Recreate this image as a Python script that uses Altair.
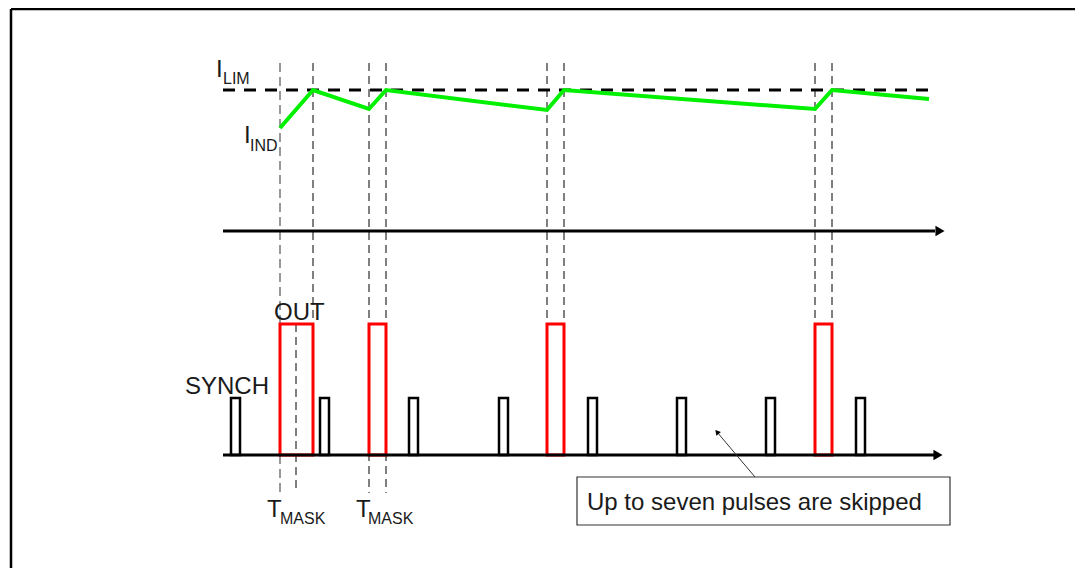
import altair as alt
import pandas as pd

# ---- time axis (t = 0 at the origin of both time axes), levels (v = 0 on the lower axis) ----
T_DOMAIN = [-215, 852]
V_DOMAIN = [-113, 447]

axis_start = 0
axis_end = 712          # end of the axis shafts
axis_tip = [717, 715]   # arrowhead centres (upper, lower)
upper_axis_level = 224
lower_axis_level = 0

# current limit
ilim_level = 365
ilim_end = 714

# inductor current (green)
ind_t = [57, 90, 146, 163, 324, 341, 592, 609, 706]
ind_v = [327, 365, 346, 365, 345, 365, 346, 365, 356]

# OUT pulses (red)
out_start = [57, 146, 324, 592]
out_end = [90, 163, 341, 609]
out_high = 131

# SYNCH pulses (black)
sync_start = [8, 97, 186, 276, 365, 454, 543, 633]
sync_width = 9
sync_high = 57

# vertical dashed guides
guide_t = [90, 73, 146, 163, 324, 341, 592, 609]
guide_top = [392, 131, 392, 392, 392, 392, 392, 392]
guide_bot = [131, -38, -38, -38, 131, 131, 131, 131]
guide0_t, guide0_top, guide0_bot = 57, 392, -38

# labels
big_text = ["I", "I", "OUT", "SYNCH", "T", "T"]
big_t = [-7, 21, 51, -38, 44, 133]
big_v = [378, 312, 135, 61, -62, -62]
sub_text = ["LIM", "IND", "MASK", "MASK"]
sub_t = [0, 27, 57, 145]
sub_v = [371, 304, -69, -69]

note_text = "Up to seven pulses are skipped"
note_box = dict(t=354, t2=727, v=-22, v2=-70)
note_pos = (364, -55)
note_arrow = dict(t=532, v=-22, t2=494, v2=23)

frame_t = -212
frame_v = 446

FONT = "Liberation Sans"
TXT = "#1a1a1a"

xs = alt.Scale(domain=T_DOMAIN, nice=False, zero=False)
ys = alt.Scale(domain=V_DOMAIN, nice=False, zero=False)


def X(f="t"):
    return alt.X(f"{f}:Q", scale=xs, axis=None)


def Y(f="v"):
    return alt.Y(f"{f}:Q", scale=ys, axis=None)


layers = []

# frame
frame_h = pd.DataFrame({"t": [frame_t], "t2": [T_DOMAIN[1] + 20], "v": [frame_v]})
frame_v_df = pd.DataFrame({"t": [frame_t], "v": [frame_v], "v2": [V_DOMAIN[0] - 20]})
layers.append(alt.Chart(frame_h).mark_rule(color="black", strokeWidth=2.5).encode(
    x=X(), x2="t2:Q", y=Y()))
layers.append(alt.Chart(frame_v_df).mark_rule(color="black", strokeWidth=2.5).encode(
    x=X(), y=Y(), y2="v2:Q"))

# dashed guides
g = pd.DataFrame({"t": guide_t, "v": guide_top, "v2": guide_bot})
layers.append(alt.Chart(g).mark_rule(color="black", strokeWidth=1, strokeDash=[8, 5]).encode(
    x=X(), y=Y(), y2="v2:Q"))
g0 = pd.DataFrame({"t": [guide0_t], "v": [guide0_top], "v2": [guide0_bot]})
layers.append(alt.Chart(g0).mark_rule(color="#777777", strokeWidth=1.5, strokeDash=[9, 5]).encode(
    x=X(), y=Y(), y2="v2:Q"))

# I_LIM dashed
il = pd.DataFrame({"t": [axis_start], "t2": [ilim_end], "v": [ilim_level]})
layers.append(alt.Chart(il).mark_rule(color="black", strokeWidth=3.2, strokeDash=[12, 9]).encode(
    x=X(), x2="t2:Q", y=Y()))

# inductor current
ind = pd.DataFrame({"t": ind_t, "v": ind_v, "i": list(range(len(ind_t)))})
layers.append(alt.Chart(ind).mark_line(color="#00f000", strokeWidth=4, strokeJoin="miter").encode(
    x=X(), y=Y(), order="i:Q"))

# OUT pulses
op = pd.DataFrame({"t": out_start, "t2": out_end, "v": [lower_axis_level] * 4, "v2": [out_high] * 4})
layers.append(alt.Chart(op).mark_rect(fillOpacity=0, stroke="#ff0000", strokeWidth=3).encode(
    x=X(), x2="t2:Q", y=Y(), y2="v2:Q"))

# SYNCH pulses
sp = pd.DataFrame({"t": sync_start, "t2": [s + sync_width for s in sync_start],
                   "v": [lower_axis_level] * len(sync_start), "v2": [sync_high] * len(sync_start)})
layers.append(alt.Chart(sp).mark_rect(fillOpacity=0, stroke="black", strokeWidth=2.5).encode(
    x=X(), x2="t2:Q", y=Y(), y2="v2:Q"))

# time axes
ax = pd.DataFrame({"t": [axis_start, axis_start], "t2": [axis_end, axis_end],
                   "v": [upper_axis_level, lower_axis_level]})
layers.append(alt.Chart(ax).mark_rule(color="black", strokeWidth=3).encode(
    x=X(), x2="t2:Q", y=Y()))
ah = pd.DataFrame({"t": axis_tip, "v": [upper_axis_level, lower_axis_level]})
layers.append(alt.Chart(ah).mark_point(shape="triangle-right", filled=True, color="black",
                                        size=110, opacity=1).encode(x=X(), y=Y()))

# annotation box
nb = pd.DataFrame([note_box])
layers.append(alt.Chart(nb).mark_rect(fill="white", stroke="#333333", strokeWidth=1.2).encode(
    x=X(), x2="t2:Q", y=Y(), y2="v2:Q"))
na = pd.DataFrame([note_arrow])
layers.append(alt.Chart(na).mark_rule(color="#333333", strokeWidth=1).encode(
    x=X(), x2="t2:Q", y=Y(), y2="v2:Q"))
nh = pd.DataFrame({"t": [note_arrow["t2"]], "v": [note_arrow["v2"]]})
layers.append(alt.Chart(nh).mark_point(shape="triangle-up", angle=320, filled=True, color="black",
                                        size=35, opacity=1).encode(x=X(), y=Y()))
nt = pd.DataFrame({"t": [note_pos[0]], "v": [note_pos[1]], "s": [note_text]})
layers.append(alt.Chart(nt).mark_text(align="left", baseline="alphabetic", font=FONT,
                                       fontSize=24, color=TXT).encode(x=X(), y=Y(), text="s:N"))

# labels
bt = pd.DataFrame({"t": big_t, "v": big_v, "s": big_text})
layers.append(alt.Chart(bt).mark_text(align="left", baseline="alphabetic", font=FONT,
                                       fontSize=24, color=TXT).encode(x=X(), y=Y(), text="s:N"))
st = pd.DataFrame({"t": sub_t, "v": sub_v, "s": sub_text})
layers.append(alt.Chart(st).mark_text(align="left", baseline="alphabetic", font=FONT,
                                       fontSize=16, color=TXT).encode(x=X(), y=Y(), text="s:N"))

chart = alt.layer(*layers).properties(
    width=1067, height=560, padding=0, background="white",
    autosize=alt.AutoSizeParams(type="none")
).configure_view(stroke="transparent", fill="white")

chart.save("out.html", embed_options={"renderer": "svg", "actions": False})
